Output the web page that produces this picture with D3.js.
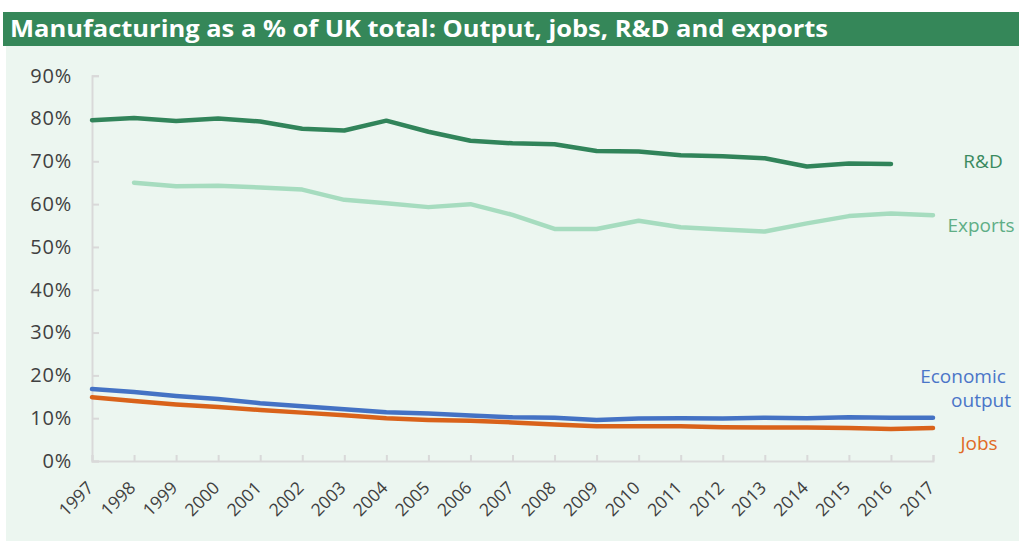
<!DOCTYPE html>
<html>
<head>
<meta charset="utf-8">
<script src="https://cdn.jsdelivr.net/npm/d3@7"></script>
<style>
  html, body { margin: 0; padding: 0; background: #ffffff; }
  svg { display: block; font-family: "Open Sans", "Noto Sans", sans-serif; }
</style>
</head>
<body>
<svg id="chart" width="1019" height="543"></svg>
<script>
// Manufacturing share of UK totals, per cent
const years = d3.range(1997, 2018);
const yTicks = [0, 10, 20, 30, 40, 50, 60, 70, 80, 90];

const rdYears = d3.range(1997, 2017);
const rdValues = [79.6, 80.1, 79.4, 80.0, 79.3, 77.6, 77.2, 79.5, 76.9, 74.8,
                  74.2, 74.0, 72.4, 72.3, 71.4, 71.2, 70.7, 68.8, 69.5, 69.4];

const exportYears = d3.range(1998, 2018);
const exportValues = [65.0, 64.2, 64.3, 63.9, 63.4, 61.0, 60.2, 59.3, 60.0, 57.5,
                      54.2, 54.2, 56.1, 54.6, 54.1, 53.6, 55.5, 57.2, 57.8, 57.4];

const outputYears = d3.range(1997, 2018);
const outputValues = [16.8, 16.1, 15.2, 14.5, 13.5, 12.8, 12.1, 11.4, 11.1, 10.6,
                      10.2, 10.1, 9.6, 9.9, 10.0, 9.9, 10.1, 10.0, 10.2, 10.1, 10.1];

const jobsYears = d3.range(1997, 2018);
const jobsValues = [14.9, 14.0, 13.2, 12.6, 11.9, 11.3, 10.7, 10.0, 9.6, 9.4,
                    9.0, 8.5, 8.1, 8.1, 8.1, 7.9, 7.8, 7.8, 7.7, 7.5, 7.7];

const svg = d3.select("#chart");
const W = 1019, H = 543;

// banner and panel
svg.append("rect").attr("x", 6).attr("y", 46).attr("width", W - 6).attr("height", 495)
  .attr("fill", "#ecf6f0");
svg.append("rect").attr("x", 3).attr("y", 12).attr("width", W - 3).attr("height", 34)
  .attr("fill", "#358759");
svg.append("text").attr("x", 10).attr("y", 37)
  .attr("fill", "#ffffff").attr("font-size", 23).attr("font-weight", 700)
  .attr("textLength", 818).attr("lengthAdjust", "spacingAndGlyphs")
  .text("Manufacturing as a % of UK total: Output, jobs, R&D and exports");

const x = d3.scaleLinear().domain([1997, 2017]).range([92, 933]);
const y = d3.scaleLinear().domain([0, 90]).range([461, 75.7]);

const axisColor = "#d9d9d9";
const textColor = "#404040";

// y axis
const yAxis = svg.append("g").attr("transform", `translate(${x(1997)},0)`)
  .call(d3.axisLeft(y).tickValues(yTicks).tickSize(-7).tickPadding(20)
    .tickFormat(d => d + "%"));
yAxis.select(".domain").attr("stroke", axisColor).attr("stroke-width", 2);
yAxis.selectAll(".tick line").attr("stroke", axisColor).attr("stroke-width", 2);
yAxis.selectAll(".tick text").attr("fill", textColor).attr("font-size", 20)
  .attr("letter-spacing", 0.8)
  .attr("font-family", "'Open Sans', sans-serif");

// x axis
const xAxis = svg.append("g").attr("transform", `translate(0,${y(0)})`)
  .call(d3.axisBottom(x).tickValues(years).tickSize(-6).tickFormat(d3.format("d")));
xAxis.select(".domain").attr("stroke", axisColor).attr("stroke-width", 2);
xAxis.selectAll(".tick line").attr("stroke", axisColor).attr("stroke-width", 2);
xAxis.selectAll(".tick text")
  .attr("fill", textColor).attr("font-size", 17.5)
  .attr("font-family", "'Open Sans', sans-serif")
  .attr("text-anchor", "end").attr("dy", null).attr("y", 0)
  .attr("transform", "translate(2,28) rotate(-45)");

// series lines
const line = d3.line().x(d => x(d[0])).y(d => y(d[1]));
const series = [
  { yrs: rdYears, vals: rdValues, color: "#31845a" },
  { yrs: exportYears, vals: exportValues, color: "#a6dcbf" },
  { yrs: outputYears, vals: outputValues, color: "#4472c4" },
  { yrs: jobsYears, vals: jobsValues, color: "#d9621a" }
];
series.forEach(s => {
  svg.append("path")
    .datum(d3.zip(s.yrs, s.vals))
    .attr("d", line)
    .attr("fill", "none")
    .attr("stroke", s.color)
    .attr("stroke-width", 4.5)
    .attr("stroke-linejoin", "round")
    .attr("stroke-linecap", "round");
});

// series labels
const labels = [
  { text: "R&D", x: 983, y: 168, color: "#3a8a5f" },
  { text: "Exports", x: 981, y: 232, color: "#5fae86" },
  { text: "Economic", x: 963, y: 383, color: "#4a75c8" },
  { text: "output", x: 981, y: 407, color: "#4a75c8" },
  { text: "Jobs", x: 979, y: 450, color: "#e06a26" }
];
svg.selectAll(".series-label").data(labels).enter().append("text")
  .attr("class", "series-label")
  .attr("x", d => d.x).attr("y", d => d.y)
  .attr("text-anchor", "middle")
  .attr("fill", d => d.color).attr("font-size", 19)
  .text(d => d.text);
</script>
</body>
</html>
